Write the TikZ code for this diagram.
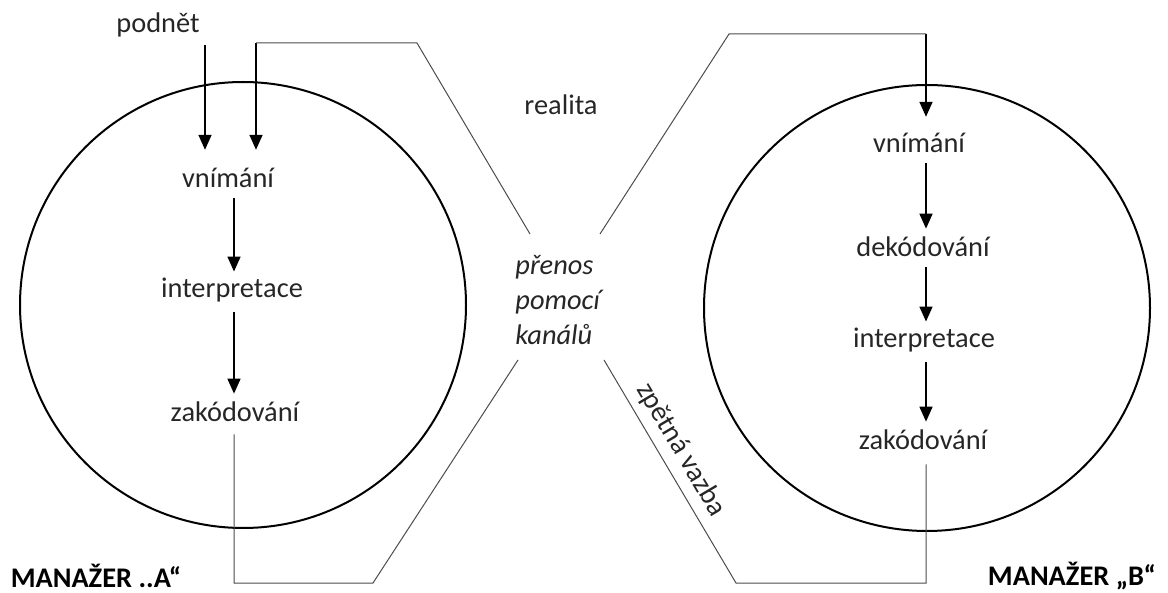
\documentclass[tikz,border=0pt]{standalone}
\usepackage{fontspec}
\setmainfont{Carlito}
\usetikzlibrary{arrows.meta}

\begin{document}
\begin{tikzpicture}[
  x=0.5pt,
  y=-0.5pt,
  word/.style={
    inner sep=0pt,
    color=black!85,
    font=\fontsize{14.2}{17.5}\selectfont
  },
  word_italic/.style={
    word,
    align=left,
    font=\fontsize{14.2}{17.5}\selectfont\itshape
  },
  word_bold/.style={
    word,
    color=black,
    font=\fontsize{14.2}{17.5}\selectfont\bfseries
  },
  manager/.style={
    draw,
    circle,
    line width=1pt,
    minimum size=223pt,
    inner sep=0pt
  },
  path_arrow/.style={
    draw,
    line width=0.8pt,
    -{Triangle[width=6.5pt,length=7.5pt]}
  },
  path_thin/.style={
    draw,
    line width=0.5pt,
    color=black!70
  }
]%
\useasboundingbox (0,0) rectangle (1168,593);

% the two managers
\node [manager] (circleA) at (243,305) {};
\node [manager] (circleB) at (927,308) {};

% manager A
\node [word] (podnet) at (158,25) {podnět};
\node [word] (vnimA) at (228,178) {vnímání};
\node [word] (interA) at (232,290) {interpretace};
\node [word] (zakodA) at (235,412) {zakódování};
\node [word_bold] (manA) at (96,576) {MANAŽER ..A“};

% manager B
\node [word] (vnimB) at (919,143) {vnímání};
\node [word] (dekodB) at (923,247) {dekódování};
\node [word] (interB) at (924,340) {interpretace};
\node [word] (zakodB) at (923,440) {zakódování};
\node [word_bold] (manB) at (1072,576) {MANAŽER „B“};

% between them
\node [word] (realita) at (561,105) {realita};
\node [word_italic, anchor=west] (prenos) at (515,300) {přenos\\pomocí\\kanálů};

% corners of the channel lines
\coordinate (colA) at (234,0);
\coordinate (colB) at (926,0);
\coordinate (stimA) at (205,45);
\coordinate (inA) at (256,43);
\coordinate (topA) at (417,43);
\coordinate (gapTL) at (530,234);
\coordinate (gapTR) at (600,234);
\coordinate (topB) at (729,34);
\coordinate (inB) at (926,34);
\coordinate (botA) at (234,583);
\coordinate (botA2) at (373,583);
\coordinate (gapBL) at (518,360);
\coordinate (gapBR) at (604,360);
\coordinate (botB2) at (736,583);
\coordinate (botB) at (926,583);

% arrows inside A
\draw [path_arrow, shorten >=9pt] (stimA) -- (stimA |- vnimA.north);
\draw [path_arrow, shorten >=9pt] (inA) -- (inA |- vnimA.north);
\draw [path_arrow, shorten <=5pt, shorten >=3pt] (vnimA.south -| colA) -- (interA.north -| colA);
\draw [path_arrow, shorten <=5pt, shorten >=4pt] (interA.south -| colA) -- (zakodA.north -| colA);

% arrows inside B
\draw [path_arrow, shorten >=8pt] (inB) -- (vnimB.north -| colB);
\draw [path_arrow, shorten <=5pt, shorten >=4pt] (vnimB.south -| colB) -- (dekodB.north -| colB);
\draw [path_arrow, shorten <=5pt, shorten >=3pt] (dekodB.south -| colB) -- (interB.north -| colB);
\draw [path_arrow, shorten <=5pt, shorten >=4pt] (interB.south -| colB) -- (zakodB.north -| colB);

% channel and feedback lines
\draw [path_thin] (gapTL) -- (topA) -- (inA);
\draw [path_thin] (gapTR) -- (topB) -- (inB);
\draw [path_thin, shorten <=6pt] (zakodA.south -| colA) -- (botA) -- (botA2) -- (gapBL);
\draw [path_thin, shorten <=7pt] (zakodB.south -| colB) -- (botB) -- (botB2) -- (gapBR);
\path (gapBR) -- node [word, sloped, above, pos=0.45, inner sep=4pt] (vazba) {zpětná vazba} (botB2);
\end{tikzpicture}
\end{document}
